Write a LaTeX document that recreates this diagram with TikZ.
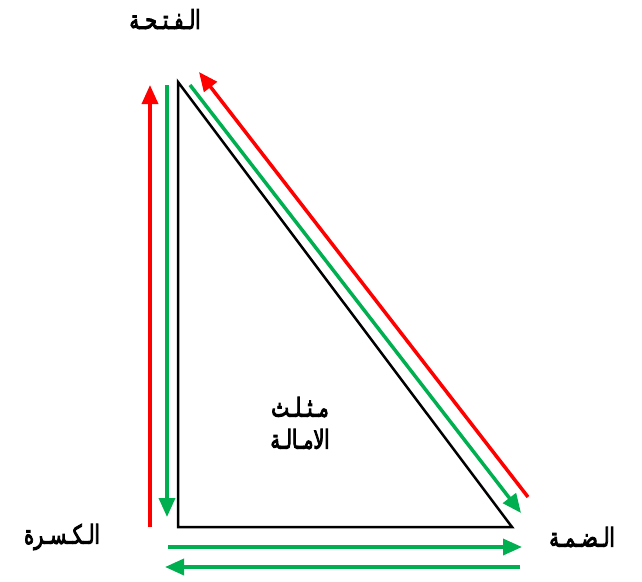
\documentclass[tikz,border=0pt]{standalone}
\usepackage{fontspec}
\newfontfamily\arabicfont[Script=Arabic,FakeBold=4]{DejaVu Sans}
\TeXXeTstate=1
\usetikzlibrary{arrows.meta}
\definecolor{rd}{HTML}{FF0000}
\definecolor{gr}{HTML}{00B050}
\newcommand\artxt[1]{\scalebox{0.95}[1.3]{\beginR #1\endR}}
\begin{document}
\begin{tikzpicture}[x=1pt,y=-1pt,
  arr/.style={line width=3.5pt,-{Triangle[length=19pt,width=16pt]}},
  lbl/.style={font=\arabicfont\fontsize{20}{24}\selectfont,inner sep=0pt}]
\useasboundingbox (0,0) rectangle (642,581);
% triangle
\coordinate (T) at (178,82);
\coordinate (BL) at (178,527);
\coordinate (BR) at (512,527);
\draw[line width=2.5pt,line join=miter] (T) -- (BL) -- (BR) -- cycle;
% arrow endpoints
\coordinate (r1s) at (150,527); \coordinate (r1e) at (150,85);
\coordinate (g1s) at (167,85);  \coordinate (g1e) at (167,517);
\coordinate (g2s) at (190,85);  \coordinate (g2e) at (521,513);
\coordinate (r2s) at (528,497); \coordinate (r2e) at (199,72);
\coordinate (g3s) at (168,547); \coordinate (g3e) at (522,547);
\coordinate (g4s) at (520,567); \coordinate (g4e) at (165,567);
\draw[arr,rd] (r1s) -- (r1e);
\draw[arr,gr] (g1s) -- (g1e);
\draw[arr,gr] (g2s) -- (g2e);
\draw[arr,rd] (r2s) -- (r2e);
\draw[arr,gr] (g3s) -- (g3e);
\draw[arr,gr] (g4s) -- (g4e);
% labels
\node[lbl] (fat) at (165,19) {\artxt{الـفـتـحـة}};
\node[lbl] (kas) at (62,537) {\artxt{الـكـسـرة}};
\node[lbl] (dam) at (582,537) {\artxt{الـضـمـة}};
\node[lbl] (c1) at (300,407) {\artxt{مـثـلـث}};
\node[lbl] (c2) at (300,439) {\artxt{الامـالـة}};
\end{tikzpicture}
\end{document}
